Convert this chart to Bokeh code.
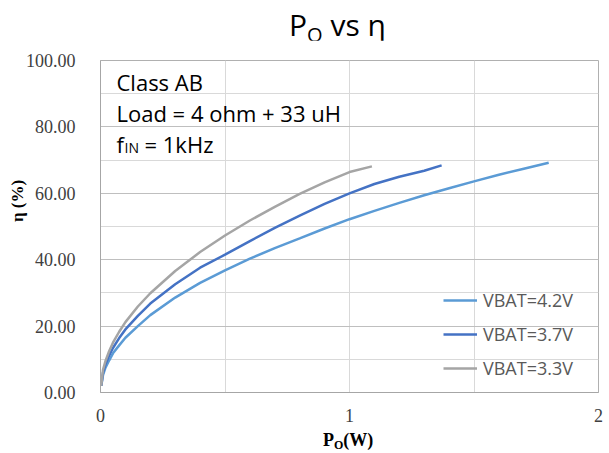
import math
from bokeh.plotting import figure
from bokeh.layouts import column
from bokeh.models import (Range1d, FixedTicker, NumeralTickFormatter, Label,
                          Legend, LegendItem, Div)
from bokeh.embed import file_html
from bokeh.resources import INLINE

# ---- data ----
po_42 = [0.003, 0.01, 0.02, 0.035, 0.05, 0.075, 0.1, 0.15, 0.2, 0.3, 0.4, 0.5,
         0.6, 0.7, 0.8, 0.9, 1.0, 1.1, 1.2, 1.3, 1.4, 1.5, 1.6, 1.7, 1.80]
eta_42 = [2.0, 5.2, 7.5, 9.7, 11.8, 14.2, 16.5, 20.0, 23.3, 28.6, 33.0, 36.8,
          40.3, 43.5, 46.4, 49.4, 52.2, 54.7, 57.1, 59.4, 61.5, 63.6, 65.6,
          67.4, 69.2]

po_37 = [0.003, 0.01, 0.02, 0.035, 0.05, 0.075, 0.1, 0.15, 0.2, 0.3, 0.4, 0.5,
         0.6, 0.7, 0.8, 0.9, 1.0, 1.1, 1.2, 1.3, 1.37]
eta_37 = [2.0, 6.0, 8.5, 11.2, 13.4, 16.4, 19.0, 23.1, 26.8, 32.6, 37.6, 41.5,
          45.6, 49.6, 53.3, 56.8, 60.0, 62.8, 65.0, 66.8, 68.4]

po_33 = [0.003, 0.01, 0.02, 0.035, 0.05, 0.075, 0.1, 0.15, 0.2, 0.3, 0.4, 0.5,
         0.6, 0.7, 0.8, 0.9, 1.0, 1.09]
eta_33 = [2.0, 6.8, 9.5, 12.5, 15.0, 18.3, 21.2, 25.9, 29.9, 36.6, 42.3, 47.3,
          51.8, 55.9, 59.8, 63.3, 66.4, 68.1]

series_names = ["VBAT=4.2V", "VBAT=3.7V", "VBAT=3.3V"]
series_colors = ["#5B9BD5", "#4472C4", "#A5A5A5"]

x_major = [0, 1, 2]
x_minor = [0.5, 1.5]
y_major = [0, 20, 40, 60, 80, 100]
y_minor = [10, 30, 50, 70, 90]

title_html = ('<div style="font-family:\'Open Sans\';font-size:30px;line-height:36px;'
              'padding-left:289px;padding-top:7px;white-space:nowrap;color:#000000;">'
              'P<span style="font-size:20px;vertical-align:-6px;line-height:0;">O</span>'
              ' vs η</div>')
xlabel_html = ('<div style="font-family:\'Liberation Serif\';font-weight:bold;font-size:18px;'
               'line-height:20px;padding-left:323px;padding-top:4px;white-space:nowrap;'
               'color:#000000;">P<span style="font-size:12px;vertical-align:-3px;'
               'line-height:0;">O</span>(W)</div>')

title_div = Div(text=title_html, width=609, height=40,
                styles={"margin": "0", "padding": "0"})
xlabel_div = Div(text=xlabel_html, width=609, height=27,
                 styles={"margin": "0", "padding": "0"})

p = figure(frame_width=498, frame_height=332, min_border_left=100,
           min_border_right=11, min_border_top=20, min_border_bottom=34,
           x_range=Range1d(0, 2), y_range=Range1d(0, 100),
           output_backend="svg", toolbar_location=None,
           background_fill_color="white", border_fill_color="white")

p.outline_line_color = "#b0b0b0"
p.outline_line_width = 1

# axes
for ax in (p.xaxis[0], p.yaxis[0]):
    ax.axis_line_color = "#a6a6a6"
    ax.major_tick_line_color = None
    ax.minor_tick_line_color = None
    ax.major_label_text_font = "Liberation Serif"
    ax.major_label_text_font_size = "18px"
    ax.major_label_text_color = "#404040"

p.xaxis[0].ticker = FixedTicker(ticks=x_major, minor_ticks=x_minor)
p.yaxis[0].ticker = FixedTicker(ticks=y_major, minor_ticks=y_minor)
p.yaxis[0].formatter = NumeralTickFormatter(format="0.00")
p.xaxis[0].formatter = NumeralTickFormatter(format="0")
p.yaxis[0].major_label_standoff = 19
p.xaxis[0].major_label_standoff = 10

p.yaxis[0].axis_label = "\u00a0" * 12 + "η (%)"
p.yaxis[0].axis_label_text_font = "Liberation Serif"
p.yaxis[0].axis_label_text_font_style = "bold"
p.yaxis[0].axis_label_text_font_size = "17px"
p.yaxis[0].axis_label_text_color = "#000000"
p.yaxis[0].axis_label_standoff = -4

# grids
p.xgrid.grid_line_color = "#d9d9d9"
p.xgrid.minor_grid_line_color = "#d9d9d9"
p.ygrid.grid_line_color = "#bfbfbf"
p.ygrid.minor_grid_line_color = "#d9d9d9"

# lines
r42 = p.line(po_42, eta_42, line_color=series_colors[0], line_width=2.5)
r37 = p.line(po_37, eta_37, line_color=series_colors[1], line_width=2.5)
r33 = p.line(po_33, eta_33, line_color=series_colors[2], line_width=2.5)

legend = Legend(items=[LegendItem(label=series_names[0], renderers=[r42]),
                       LegendItem(label=series_names[1], renderers=[r37]),
                       LegendItem(label=series_names[2], renderers=[r33])],
                location=(343, 12), orientation="vertical",
                padding=0, margin=0, spacing=10,
                glyph_width=34, glyph_height=20, label_height=20,
                label_standoff=6,
                label_text_font="Open Sans", label_text_font_size="18px",
                label_text_color="#595959",
                background_fill_alpha=0, border_line_alpha=0)
p.add_layout(legend, "center")

def lab(x, y, text, size, font="Open Sans"):
    p.add_layout(Label(x=x, y=y, x_units="screen", y_units="screen", text=text,
                       text_font=font, text_font_size=size,
                       text_color="#000000", text_align="left",
                       text_baseline="alphabetic"))

# annotation text inside the plot area
lab(16, 311, "Class AB", "22px")
lab(16, 280, "Load = 4 ohm  + 33 uH", "22px")
lab(16, 249, "f", "22px")
lab(24, 245, "IN", "14px")
lab(44, 249, "= 1kHz", "22px")

layout = column(title_div, p, xlabel_div, spacing=0)

open("out.html", "w").write(file_html(layout, INLINE))
